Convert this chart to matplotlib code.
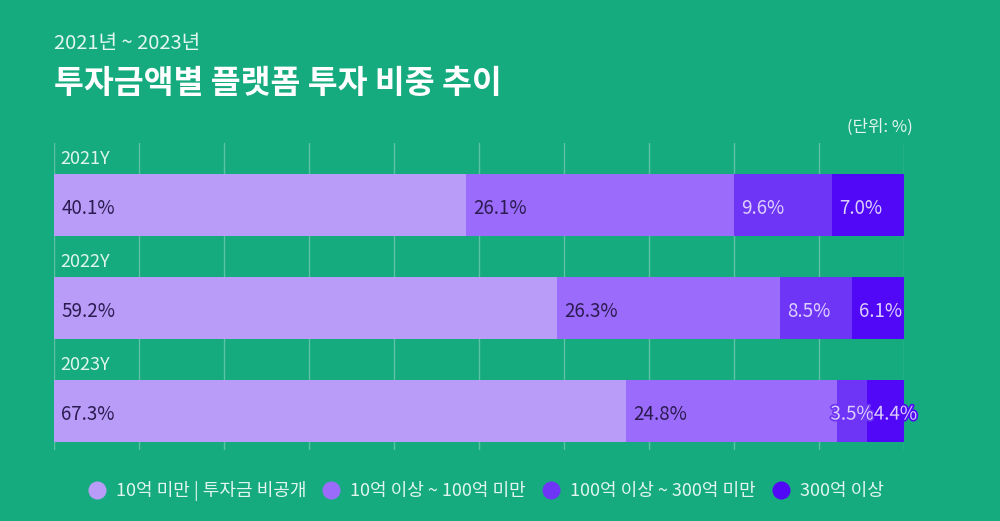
import matplotlib
matplotlib.use("Agg")
import matplotlib.pyplot as plt
import matplotlib.patheffects as pe
from matplotlib.lines import Line2D

plt.rcParams['font.family'] = ['Noto Sans CJK KR', 'DejaVu Sans']

# Data
years = ['2021Y', '2022Y', '2023Y']
series = ['10억 미만 | 투자금 비공개', '10억 이상 ~ 100억 미만', '100억 이상 ~ 300억 미만', '300억 이상']
values = [
    [40.1, 26.1, 9.6, 7.0],
    [59.2, 26.3, 8.5, 6.1],
    [67.3, 24.8, 3.5, 4.4],
]
colors = ['#b89cf8', '#9b6cfb', '#6f35f6', '#5008f6']
text_colors = ['#2b1b50', '#2b1b50', '#dccfff', '#dccfff']
bg = '#16ab7e'

fig = plt.figure(figsize=(10, 5.21), dpi=100, facecolor=bg)
ax = fig.add_axes([0.054, 1 - 450 / 521, 0.85, 307 / 521])
ax.set_facecolor(bg)
ax.set_xlim(0, 100)
ax.set_ylim(2.379, -0.602)
for s in ax.spines.values():
    s.set_visible(False)
ax.set_xticks(range(0, 101, 10))
ax.set_yticks([])
ax.tick_params(axis='x', length=0, labelbottom=False)
ax.grid(axis='x', color='white', alpha=0.3, linewidth=1)
ax.set_axisbelow(True)

label_info = []
for i, row in enumerate(values):
    total = sum(row)
    left = 0
    ax.text(0.7, i - 0.45, years[i], fontsize=13, color='#dff5ec', va='center', ha='left')
    row_labels = []
    for j, v in enumerate(row):
        w = v / total * 100
        ax.barh(i, w, left=left, height=0.6, color=colors[j], edgecolor='none')
        t = ax.text(left + 0.85, i + 0.03, f'{v:.1f}%', fontsize=13.5, color=text_colors[j],
                    va='center', ha='left')
        row_labels.append((t, left, w, j))
        left += w
    label_info.append(row_labels)

# keep labels from colliding, outline those that overflow their segment
fig.canvas.draw()
renderer = fig.canvas.get_renderer()
px_per_unit = ax.transData.transform((1, 0))[0] - ax.transData.transform((0, 0))[0]
for row_labels in label_info:
    next_left = None
    for t, left, w, j in reversed(row_labels):
        bb = t.get_window_extent(renderer)
        width_u = bb.width / px_per_unit
        x0 = t.get_position()[0]
        if next_left is not None and x0 + width_u > next_left:
            x0 = next_left - width_u
            t.set_x(x0)
        if x0 + width_u > left + w or x0 < left:
            t.set_path_effects([pe.withStroke(linewidth=2.5, foreground=colors[j])])
        next_left = x0

fig.text(0.054, 1 - 43 / 521, '2021년 ~ 2023년', fontsize=14.5, color='#e2f6ef',
         va='center', ha='left', fontweight='light')
fig.text(0.054, 1 - 83 / 521, '투자금액별 플랫폼 투자 비중 추이', fontsize=23.4, color='white',
         va='center', ha='left', fontweight='bold')
fig.text(0.913, 1 - 127 / 521, '(단위: %)', fontsize=12, color='#e2f6ef', va='center', ha='right')

handles = [Line2D([], [], marker='o', linestyle='none', markersize=13,
                  markerfacecolor=c, markeredgecolor='none') for c in colors]
leg = fig.legend(handles, series, loc='center', bbox_to_anchor=(0.485, 1 - 491 / 521), ncol=4,
                 frameon=False, fontsize=13, handletextpad=0.45, columnspacing=0.8,
                 labelcolor='#e2f6ef', handlelength=1.2)

fig.savefig('out.png', dpi=100, facecolor=bg)
